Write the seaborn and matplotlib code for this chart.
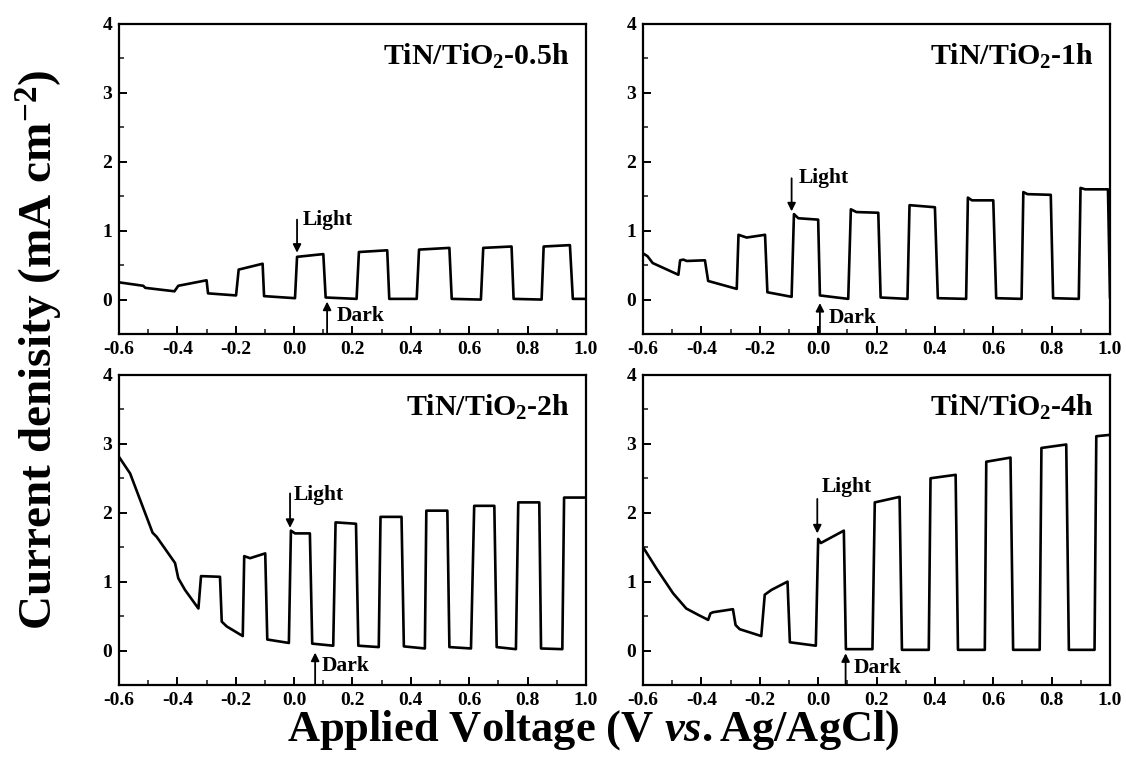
import matplotlib
matplotlib.use("Agg")
import matplotlib.pyplot as plt
import pandas as pd
import seaborn as sns
from matplotlib.ticker import MultipleLocator

# ---------------- data ----------------
# TiN/TiO2-0.5h
v_05h = [-0.60, -0.517, -0.51, -0.41, -0.397, -0.30, -0.295, -0.199, -0.19, -0.108, -0.103,
         0.003, 0.01, 0.10, 0.108, 0.214, 0.222, 0.319, 0.326, 0.42, 0.428, 0.532, 0.54,
         0.64, 0.648, 0.745, 0.752, 0.848, 0.855, 0.945, 0.955, 1.0]
j_05h = [0.25, 0.20, 0.17, 0.12, 0.20, 0.28, 0.09, 0.06, 0.435, 0.52, 0.05,
         0.02, 0.62, 0.66, 0.03, 0.01, 0.69, 0.715, 0.01, 0.01, 0.725, 0.75, 0.01,
         0.0, 0.75, 0.77, 0.01, 0.0, 0.77, 0.79, 0.01, 0.01]

# TiN/TiO2-1h
v_1h = [-0.60, -0.585, -0.567, -0.479, -0.473, -0.462, -0.45, -0.388, -0.377, -0.279,
        -0.273, -0.245, -0.182, -0.174, -0.091, -0.083, -0.068, 0.0, 0.006, 0.103,
        0.112, 0.131, 0.206, 0.214, 0.306, 0.313, 0.400, 0.410, 0.507, 0.513, 0.527,
        0.600, 0.610, 0.697, 0.703, 0.717, 0.797, 0.805, 0.893, 0.899, 0.915, 0.993, 1.0]
j_1h = [0.67, 0.63, 0.53, 0.36, 0.57, 0.58, 0.56, 0.57, 0.27, 0.155,
        0.94, 0.90, 0.94, 0.106, 0.04, 1.24, 1.18, 1.16, 0.06, 0.01,
        1.31, 1.27, 1.26, 0.03, 0.01, 1.37, 1.34, 0.02, 0.01, 1.48, 1.44,
        1.44, 0.02, 0.01, 1.56, 1.53, 1.52, 0.02, 0.01, 1.62, 1.60, 1.60, 0.02]

# TiN/TiO2-2h
v_2h = [-0.60, -0.562, -0.485, -0.471, -0.408, -0.397, -0.374, -0.328, -0.319, -0.254,
        -0.248, -0.231, -0.176, -0.171, -0.151, -0.099, -0.092, -0.018, -0.011, 0.003,
        0.054, 0.062, 0.134, 0.142, 0.212, 0.220, 0.290, 0.296, 0.368, 0.376, 0.448,
        0.453, 0.525, 0.532, 0.606, 0.617, 0.686, 0.694, 0.760, 0.768, 0.840, 0.846,
        0.919, 0.925, 1.0]
j_2h = [2.81, 2.57, 1.71, 1.65, 1.27, 1.05, 0.88, 0.61, 1.08, 1.07,
        0.42, 0.35, 0.21, 1.37, 1.34, 1.41, 0.16, 0.11, 1.74, 1.70,
        1.70, 0.10, 0.07, 1.86, 1.84, 0.07, 0.05, 1.94, 1.94, 0.06, 0.03,
        2.03, 2.03, 0.05, 0.03, 2.10, 2.10, 0.05, 0.02, 2.15, 2.15, 0.03,
        0.02, 2.22, 2.22]

# TiN/TiO2-4h
v_4h = [-0.60, -0.554, -0.497, -0.452, -0.412, -0.377, -0.369, -0.36, -0.292, -0.283,
        -0.269, -0.195, -0.183, -0.160, -0.105, -0.097, -0.008, 0.0, 0.009, 0.088,
        0.095, 0.186, 0.194, 0.279, 0.287, 0.379, 0.385, 0.471, 0.479, 0.571, 0.576,
        0.659, 0.668, 0.759, 0.765, 0.850, 0.859, 0.947, 0.953, 1.0]
j_4h = [1.50, 1.19, 0.83, 0.61, 0.52, 0.445, 0.54, 0.556, 0.60, 0.37,
        0.31, 0.21, 0.81, 0.88, 1.00, 0.12, 0.07, 1.62, 1.56, 1.74,
        0.02, 0.02, 2.15, 2.23, 0.01, 0.01, 2.50, 2.55, 0.01, 0.01, 2.74,
        2.80, 0.01, 0.01, 2.94, 2.99, 0.01, 0.01, 3.11, 3.13]

sample_labels = ["TiN/TiO$_2$-0.5h", "TiN/TiO$_2$-1h", "TiN/TiO$_2$-2h", "TiN/TiO$_2$-4h"]

# arrow annotations: (x, y_top, y_tip) for "Light", (x, y_tip) for "Dark"
light_x = [0.01, -0.091, -0.014, -0.003]
light_top = [1.16, 1.76, 2.28, 2.20]
light_tip = [0.68, 1.28, 1.78, 1.70]
light_text_x = [0.03, -0.068, 0.0, 0.011]
light_text_y = [1.16, 1.77, 2.26, 2.37]
dark_x = [0.113, 0.006, 0.072, 0.094]
dark_tip = [-0.03, -0.05, -0.03, -0.04]
dark_text_x = [0.147, 0.037, 0.094, 0.12]
dark_text_y = [-0.24, -0.27, -0.23, -0.26]

x_ticks = [-0.6, -0.4, -0.2, 0.0, 0.2, 0.4, 0.6, 0.8, 1.0]
y_ticks = [0, 1, 2, 3, 4]

# ---------------- style ----------------
sns.set_theme(style="ticks")
plt.rcParams["font.family"] = ["Liberation Serif", "DejaVu Serif"]
plt.rcParams["font.weight"] = "bold"
plt.rcParams["mathtext.fontset"] = "custom"
plt.rcParams["mathtext.rm"] = "Liberation Serif:bold"
plt.rcParams["mathtext.bf"] = "Liberation Serif:bold"
plt.rcParams["mathtext.it"] = "Liberation Serif:bold:italic"
plt.rcParams["mathtext.default"] = "bf"

fig = plt.figure(figsize=(11.26, 7.6), dpi=100)
rects = [[0.1057, 0.5605, 0.4147, 0.408],
         [0.5711, 0.5605, 0.4147, 0.408],
         [0.1057, 0.0987, 0.4147, 0.408],
         [0.5711, 0.0987, 0.4147, 0.408]]
series = [(v_05h, j_05h), (v_1h, j_1h), (v_2h, j_2h), (v_4h, j_4h)]

for i, (rect, (v, j)) in enumerate(zip(rects, series)):
    ax = fig.add_axes(rect)
    df = pd.DataFrame({"V": v, "J": j})
    sns.lineplot(data=df, x="V", y="J", ax=ax, sort=False, estimator=None,
                 color="black", linewidth=1.9)
    ax.set_xlim(-0.6, 1.0)
    ax.set_ylim(-0.5, 4.0)
    ax.set_xticks(x_ticks)
    ax.set_xticklabels([f"{t:.1f}" for t in x_ticks])
    ax.set_yticks(y_ticks)
    ax.set_yticklabels([str(t) for t in y_ticks])
    ax.xaxis.set_minor_locator(MultipleLocator(0.1))
    ax.yaxis.set_minor_locator(MultipleLocator(0.5))
    ax.tick_params(which="major", direction="in", length=5.5, width=1.4,
                   labelsize=14, pad=5, colors="black", top=False, right=False)
    ax.tick_params(which="minor", direction="in", length=3.5, width=1.2,
                   top=False, right=False)
    for lab in ax.get_xticklabels() + ax.get_yticklabels():
        lab.set_fontweight("bold")
    for sp in ax.spines.values():
        sp.set_linewidth(1.6)
        sp.set_color("black")
        sp.set_visible(True)
    ax.set_xlabel("")
    ax.set_ylabel("")

    ax.text(0.965, 0.895, sample_labels[i], transform=ax.transAxes, ha="right",
            va="center", fontsize=21.5, fontweight="bold", color="black")

    ax.annotate("", xy=(light_x[i], light_tip[i]), xytext=(light_x[i], light_top[i]),
                arrowprops=dict(arrowstyle="-|>", color="black", lw=1.3,
                                mutation_scale=12, shrinkA=0, shrinkB=0))
    ax.text(light_text_x[i], light_text_y[i], "Light", ha="left", va="center",
            fontsize=15.5, fontweight="bold", color="black")
    ax.annotate("", xy=(dark_x[i], dark_tip[i]), xytext=(dark_x[i], -0.5),
                arrowprops=dict(arrowstyle="-|>", color="black", lw=1.3,
                                mutation_scale=12, shrinkA=0, shrinkB=0))
    ax.text(dark_text_x[i], dark_text_y[i], "Dark", ha="left", va="center",
            fontsize=15.5, fontweight="bold", color="black")

fig.text(0.035, 1 - 350 / 760, "Current denisity (mA cm$^{-2}$)", rotation=90,
         ha="center", va="center", fontsize=34, fontweight="bold", color="black")
fig.text(0.5266, 1 - 730 / 760, "Applied Voltage (V $\\mathit{vs.}$Ag/AgCl)",
         ha="center", va="center", fontsize=32, fontweight="bold", color="black")

fig.savefig("out.png", dpi=100, facecolor="white")
